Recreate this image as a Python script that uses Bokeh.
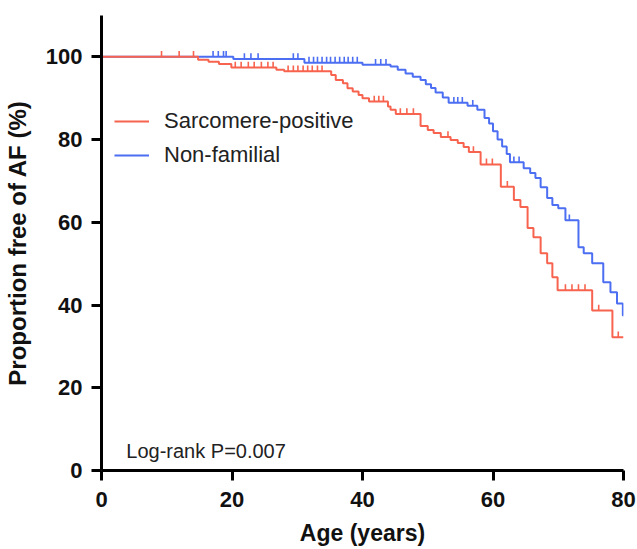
import numpy as np
from bokeh.plotting import figure
from bokeh.models import Range1d, Legend, LegendItem, Label, FixedTicker
from bokeh.embed import file_html
from bokeh.resources import INLINE

# ---- data ----
red_label = "Sarcomere-positive"
blue_label = "Non-familial"

red_t = [14.8, 16.4, 18.0, 19.9, 26.8, 28.0, 35.2, 35.9, 37.0, 37.7, 38.5, 39.4, 40.0, 41.0,
         43.9, 44.3, 45.1, 48.9, 50.0, 50.9, 52.0, 53.5, 54.6, 55.5, 56.3, 58.1, 61.2, 63.2,
         64.2, 65.3, 66.2, 67.3, 68.3, 69.1, 69.9, 75.2, 78.3]
red_s = [99.3, 98.8, 98.3, 97.4, 96.9, 96.5, 95.6, 94.4, 93.6, 92.4, 91.6, 90.8, 90.0, 89.2,
         88.0, 87.2, 86.2, 83.3, 82.3, 81.6, 80.6, 79.9, 79.2, 78.2, 77.0, 74.0, 68.6, 65.4,
         63.7, 58.6, 56.4, 52.5, 50.1, 46.7, 43.6, 38.7, 32.2]
red_cens = [9.2, 11.9, 14.1, 20.5, 21.4, 22.5, 23.4, 24.5, 25.5, 26.3, 28.6, 29.4, 30.1, 30.9,
            31.6, 32.3, 33.1, 33.8, 41.8, 42.5, 43.2, 45.8, 46.8, 47.8, 53.1, 57.0, 59.0, 59.9,
            62.2, 71.1, 72.1, 73.1, 74.1, 76.2, 79.2]

blue_t = [20.2, 31.1, 40.0, 44.3, 45.4, 46.6, 47.7, 48.9, 49.7, 50.5, 51.2, 52.3, 53.2, 56.1,
          57.6, 58.7, 59.4, 60.0, 60.7, 61.4, 62.1, 62.6, 64.7, 65.7, 66.5, 67.3, 68.3, 69.1,
          70.0, 71.1, 73.1, 73.9, 75.2, 76.9, 78.0, 79.0, 79.9]
blue_s = [99.5, 98.6, 98.1, 97.7, 96.9, 96.0, 95.2, 94.4, 93.4, 92.5, 91.4, 90.2, 88.9, 88.2,
          87.2, 85.2, 83.9, 82.0, 80.0, 78.3, 76.5, 74.5, 73.1, 71.9, 70.7, 68.5, 65.9, 64.2,
          63.4, 60.5, 54.0, 52.5, 50.1, 45.5, 43.1, 40.4, 37.5]
blue_cens = [17.1, 17.9, 18.7, 19.1, 21.9, 22.9, 24.0, 29.4, 30.1, 31.8, 32.5, 33.1, 33.8, 34.5,
             35.1, 35.8, 36.5, 37.2, 37.8, 38.5, 39.2, 42.0, 42.8, 43.6, 54.0, 54.6, 55.3, 56.9,
             63.2, 64.0, 71.7]

x_ticks = [0, 20, 40, 60, 80]
y_ticks = [0, 20, 40, 60, 80, 100]
annotation = "Log-rank P=0.007"

RED = "#F7634E"
BLUE = "#4C6EF2"
FONT = "Liberation Sans"
END = 80


def step_xy(t, s):
    return [0] + list(t) + [END], [100] + list(s) + [s[-1]]


def cens_y(t, s, c):
    vals = np.array([100] + list(s))
    idx = np.searchsorted(np.array(t), np.array(c), side="right")
    return vals[idx]


p = figure(width=637, height=549, output_backend="svg", toolbar_location=None,
           x_range=Range1d(0, 80), y_range=Range1d(0, 110),
           min_border_left=100, min_border_right=14, min_border_top=15, min_border_bottom=79)
p.outline_line_color = None
p.xgrid.visible = False
p.ygrid.visible = False
p.background_fill_color = "white"

p.xaxis.ticker = FixedTicker(ticks=x_ticks)
p.yaxis.ticker = FixedTicker(ticks=y_ticks)
p.xaxis.axis_label = "Age (years)"
p.yaxis.axis_label = "Proportion free of AF (%)"
for ax in (p.xaxis, p.yaxis):
    ax.axis_line_width = 3
    ax.axis_line_color = "black"
    ax.major_tick_line_width = 3
    ax.major_tick_line_color = "black"
    ax.major_tick_out = 10
    ax.major_tick_in = 0
    ax.minor_tick_out = 0
    ax.minor_tick_in = 0
    ax.major_label_text_font = FONT
    ax.major_label_text_font_style = "bold"
    ax.major_label_text_font_size = "22px"
    ax.major_label_text_color = "#111111"
    ax.axis_label_text_font = FONT
    ax.axis_label_text_font_style = "bold"
    ax.axis_label_text_color = "#111111"
p.xaxis.axis_label_text_font_size = "23px"
p.yaxis.axis_label_text_font_size = "24px"
p.xaxis.major_label_standoff = 11
p.yaxis.major_label_standoff = 9
p.xaxis.axis_label_standoff = 10
p.yaxis.axis_label_standoff = 12

bx, by = step_xy(blue_t, blue_s)
rx, ry = step_xy(red_t, red_s)
r_blue = p.step(bx, by, mode="after", line_color=BLUE, line_width=2)
bcy = cens_y(blue_t, blue_s, blue_cens)
p.segment(x0=blue_cens, y0=bcy, x1=blue_cens, y1=bcy + 1.4, line_color=BLUE, line_width=1.6)
r_red = p.step(rx, ry, mode="after", line_color=RED, line_width=2)
rcy = cens_y(red_t, red_s, red_cens)
p.segment(x0=red_cens, y0=rcy, x1=red_cens, y1=rcy + 1.4, line_color=RED, line_width=1.6)

legend = Legend(items=[LegendItem(label=red_label, renderers=[r_red]),
                       LegendItem(label=blue_label, renderers=[r_blue])],
                location=(13, 298), padding=0, margin=0, spacing=0,
                glyph_width=35, glyph_height=34, label_height=34, label_standoff=15,
                label_text_font=FONT, label_text_font_size="22px", label_text_color="#222222",
                border_line_color=None, background_fill_alpha=0)
p.add_layout(legend)

p.add_layout(Label(x=3.8, y=4.8, text=annotation, text_font=FONT, text_font_size="20px",
                   text_baseline="middle", text_color="#222222"))

open("out.html", "w").write(file_html(p, INLINE))
